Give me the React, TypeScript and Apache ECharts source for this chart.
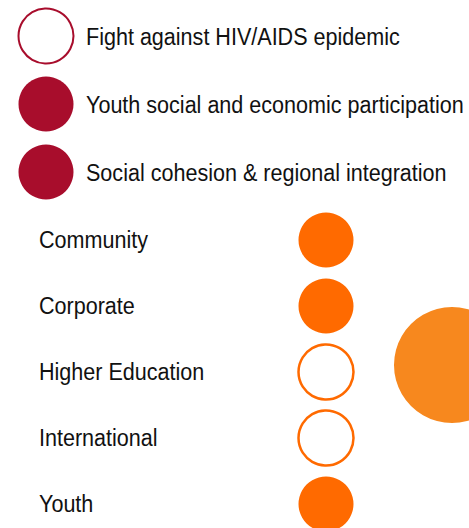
import React, { useEffect, useRef } from "react";
import * as echarts from "echarts";

const themes = [
  "Fight against HIV/AIDS epidemic",
  "Youth social and economic participation",
  "Social cohesion & regional integration",
];
const themeFilled = [0, 1, 1];

const sectors = ["Community", "Corporate", "Higher Education", "International", "Youth"];
const sectorFilled = [1, 1, 0, 0, 1];

const RED = "#a80d2c";
const ORANGE = "#ff6a00";
const BIG = "#f7881e";
const FONT = "'Liberation Sans', Arial, sans-serif";
const FONT_SIZE = 24.5;
const NARROW = 0.88;

export default function App() {
  const ref = useRef<HTMLDivElement>(null);
  useEffect(() => {
    const chart = echarts.init(ref.current!, undefined, { renderer: "svg" });
    const themeData = themes.map((t, i) => ({
      value: [0, i],
      name: t,
      itemStyle: themeFilled[i]
        ? { color: RED, borderColor: RED, borderWidth: 0, opacity: 1 }
        : { color: "#ffffff", borderColor: RED, borderWidth: 2, opacity: 1 },
    }));
    const sectorData = sectors.map((s, i) => ({
      value: [0, i],
      name: s,
      itemStyle: sectorFilled[i]
        ? { color: ORANGE, borderColor: ORANGE, borderWidth: 0, opacity: 1 }
        : { color: "#ffffff", borderColor: ORANGE, borderWidth: 2.5, opacity: 1 },
    }));
    chart.setOption({
      animation: false,
      backgroundColor: "#ffffff",
      grid: [
        { left: 18, width: 56, top: 36, height: 136 },
        { left: 298, width: 56, top: 240, height: 264 },
      ],
      xAxis: [
        { type: "category", data: ["theme"], gridIndex: 0, show: false, boundaryGap: true },
        { type: "category", data: ["status"], gridIndex: 1, show: false, boundaryGap: true },
      ],
      yAxis: [
        { type: "category", data: themes, gridIndex: 0, inverse: true, boundaryGap: false, show: false },
        { type: "category", data: sectors, gridIndex: 1, inverse: true, boundaryGap: false, show: false },
      ],
      series: [
        { type: "scatter", xAxisIndex: 0, yAxisIndex: 0, symbolSize: 55, data: themeData },
        { type: "scatter", xAxisIndex: 1, yAxisIndex: 1, symbolSize: 55, data: sectorData },
      ],
    });

    const texts: any[] = [];
    themes.forEach((t, i) => {
      const p = chart.convertToPixel({ seriesIndex: 0 }, [0, i]) as number[];
      texts.push({
        type: "text",
        x: p[0] + 40,
        y: p[1] + 1,
        scaleX: NARROW,
        silent: true,
        style: {
          text: t,
          fontSize: FONT_SIZE,
          fontFamily: FONT,
          fill: "#111111",
          verticalAlign: "middle",
          align: "left",
        },
      });
    });
    sectors.forEach((s, i) => {
      const p = chart.convertToPixel({ seriesIndex: 1 }, [0, i]) as number[];
      texts.push({
        type: "text",
        x: 39,
        y: p[1],
        scaleX: NARROW,
        silent: true,
        style: {
          text: s,
          fontSize: FONT_SIZE,
          fontFamily: FONT,
          fill: "#111111",
          verticalAlign: "middle",
          align: "left",
        },
      });
    });
    chart.setOption({
      graphic: [
        { type: "circle", shape: { cx: 452, cy: 365, r: 58 }, style: { fill: BIG }, silent: true },
        ...texts,
      ],
    });
    return () => chart.dispose();
  }, []);
  return <div ref={ref} style={{ width: 469, height: 528, position: "absolute", left: 0, top: 0 }} />;
}
